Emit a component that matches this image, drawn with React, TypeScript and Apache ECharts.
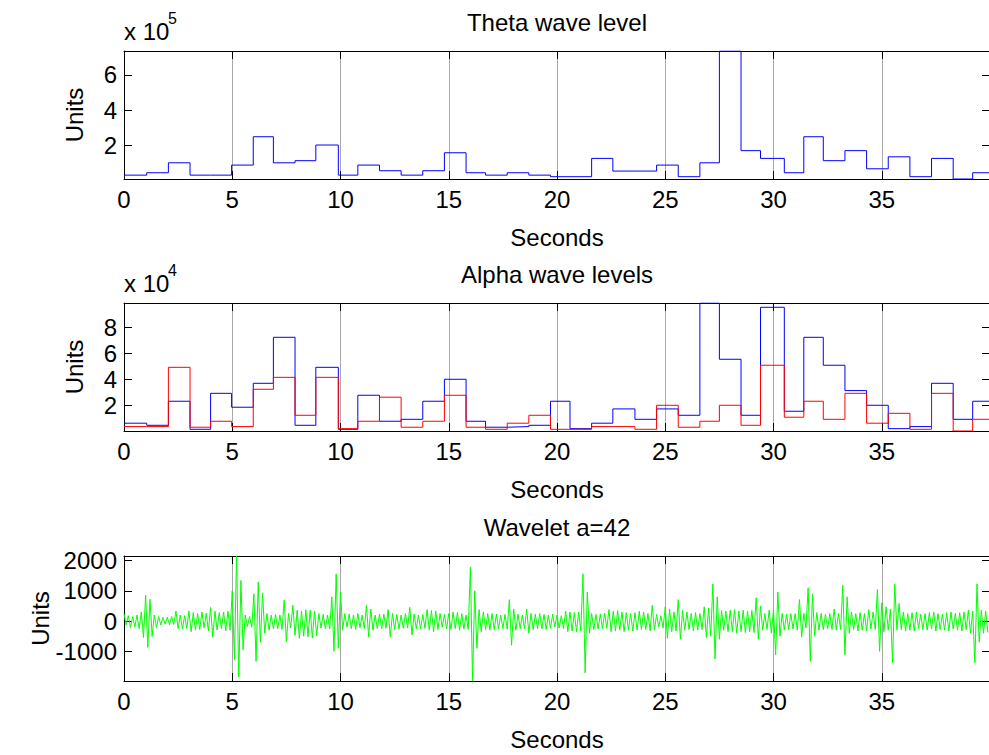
import React, { useEffect, useRef } from 'react';
import * as echarts from 'echarts';

// ---- data ----
const binEdges = [0, 1.05, 2.05, 3.05, 4.0, 4.97, 5.97, 6.9, 7.9, 8.86, 9.9, 10.8, 11.8, 12.8, 13.8, 14.8, 15.8, 16.7, 17.7, 18.7, 19.7, 20.6, 21.6, 22.58, 23.6, 24.6, 25.6, 26.6, 27.5, 28.5, 29.4, 30.5, 31.4, 32.3, 33.3, 34.3, 35.3, 36.3, 37.3, 38.3, 39.2];
const endTime = 40;

const thetaLevel = [31000, 44500, 101000, 31000, 31000, 88000, 249000, 101000, 113000, 202000, 31000, 88000, 56000, 31000, 56000, 158000, 44500, 31000, 44500, 31000, 22000, 22000, 126000, 54000, 54000, 88000, 22000, 101000, 736000, 170000, 126000, 44500, 249000, 113000, 170000, 67000, 135000, 22000, 126000, 9000, 44500];

const alphaBlue = [6200, 4600, 23100, 1500, 29200, 18500, 36900, 72300, 4600, 49200, 1500, 27700, 7700, 9200, 23100, 40000, 7700, 3100, 3600, 4600, 23100, 2000, 6200, 17200, 9200, 17200, 12300, 98700, 55400, 12300, 95400, 15400, 72300, 50800, 31300, 20000, 2000, 3600, 36900, 9200, 23100];

const alphaRed = [3600, 3600, 49200, 3100, 7700, 3600, 32300, 41500, 12300, 41500, 2000, 7700, 26200, 3100, 7700, 27700, 3100, 1500, 6200, 12300, 1500, 1500, 3600, 3600, 1500, 20000, 3100, 7700, 20000, 4600, 50800, 10800, 23100, 9200, 29200, 6200, 13800, 1500, 29200, 200, 9200];

const waveletStep = 0.1; // seconds between samples
const wavelet = [
  250, -130, 180, -220, 150, -200, 200, -250, 300, -540,
  850, -870, 720, -510, 200, -220, 150, -130, 120, -100,
  130, -120, 150, -110, 330, -250, 200, -260, 180, -240,
  330, -350, 280, -300, 250, -280, 300, -220, 260, -330,
  450, -530, 330, -300, 280, -250, 300, -320, 330, -300,
  1000, -1270, 2150, -1850, 1340, -950, 200, -180, 150, -200,
  900, -1330, 1290, -700, 930, -400, 250, -300, 200, -250,
  220, -250, 200, -280, 690, -680, 250, -230, 520, -470,
  360, -570, 330, -500, 380, -520, 360, -560, 330, -480,
  250, -230, 220, -250, 200, -260, 800, -1000, 1560, -900,
  960, -300, 250, -200, 230, -250, 200, -280, 250, -220,
  200, -250, 520, -530, 400, -300, 200, -250, 230, -260,
  230, -240, 380, -530, 250, -280, 220, -260, 200, -240,
  250, -230, 450, -460, 230, -250, 200, -260, 220, -240,
  380, -300, 350, -350, 330, -280, 250, -200, 220, -250,
  250, -280, 300, -250, 280, -300, 250, -260, 200, -280,
  1780, -1980, 1000, -900, 380, -350, 300, -280, 250, -300,
  250, -280, 230, -260, 200, -250, 220, -270, 710, -800,
  400, -300, 230, -250, 200, -260, 400, -400, 250, -280,
  230, -250, 250, -260, 220, -280, 200, -240, 230, -200,
  200, -230, 180, -250, 330, -350, 300, -330, 280, -350,
  300, -330, 1560, -1710, 960, -400, 250, -280, 220, -260,
  230, -250, 260, -240, 380, -350, 330, -330, 350, -300,
  300, -350, 280, -300, 250, -330, 280, -300, 330, -280,
  300, -280, 250, -320, 520, -300, 220, -200, 180, -230,
  470, -570, 400, -350, 300, -330, 710, -600, 350, -300,
  300, -280, 250, -330, 280, -300, 250, -280, 470, -540,
  430, -500, 1230, -1250, 800, -600, 350, -300, 330, -350,
  360, -350, 380, -400, 330, -350, 360, -380, 330, -350,
  350, -380, 770, -600, 500, -300, 250, -280, 360, -400,
  380, -1110, 960, -500, 250, -300, 230, -280, 250, -260,
  250, -300, 710, -530, 250, -230, 1100, -1330, 900, -500,
  280, -300, 250, -280, 230, -260, 250, -280, 400, -300,
  250, -280, 1180, -1110, 800, -400, 300, -280, 250, -330,
  280, -300, 250, -330, 380, -260, 300, -280, 1040, -1000,
  600, -350, 470, -300, 400, -1380, 1230, -300, 580, -280,
  300, -330, 250, -300, 280, -330, 300, -250, 230, -280,
  250, -300, 280, -260, 300, -330, 250, -280, 230, -300,
  280, -330, 300, -260, 250, -300, 280, -330, 300, -280,
  360, -400, 330, -1380, 1230, -700, 360, -400, 330, -380,
];

const titles = ['Theta wave level', 'Alpha wave levels', 'Wavelet a=42'];
const xTicks = [0, 5, 10, 15, 20, 25, 30, 35];

const FONT = '"Liberation Sans", Arial, Helvetica, sans-serif';

function stairs(values: number[]) {
  const pts: number[][] = values.map((v, i) => [binEdges[i], v]);
  pts.push([endTime, values[values.length - 1]]);
  return pts;
}

const panels = [
  { top: 51, height: 128, scale: 1e5, splitNumber: 3, step: 200000, nameGap: 38 },
  { top: 303, height: 128, scale: 1e4, splitNumber: 4, step: 20000, nameGap: 38 },
  { top: 556, height: 125, scale: 1, splitNumber: 4, step: 1000, nameGap: 72 },
];

export default function App() {
  const ref = useRef<HTMLDivElement>(null);
  useEffect(() => {
    if (!ref.current) return;
    const chart = echarts.init(ref.current, undefined, { renderer: 'svg' });

    const ranges = [
      [Math.min(...thetaLevel), Math.max(...thetaLevel)],
      [Math.min(...alphaBlue, ...alphaRed), Math.max(...alphaBlue, ...alphaRed)],
      [Math.min(...wavelet), Math.max(...wavelet)],
    ];

    const grid: any[] = [];
    const xAxis: any[] = [];
    const yAxis: any[] = [];
    const graphic: any[] = [];
    const black = '#000';

    panels.forEach((p, i) => {
      grid.push({ left: 124, width: 866, top: p.top, height: p.height, outerBoundsMode: 'none', containLabel: false });
      xAxis.push({
        type: 'value', gridIndex: i, min: 0, max: endTime, interval: 5, position: 'bottom',
        axisLine: { show: true, onZero: false, lineStyle: { color: black, width: 1 } },
        axisTick: { show: true, inside: true, length: 8, lineStyle: { color: black, width: 1 } },
        axisLabel: {
          color: black, fontSize: 24, fontFamily: FONT, margin: 8, showMaxLabel: false,
          formatter: (v: number) => (xTicks.includes(v) ? String(v) : ''),
        },
        splitLine: { show: true, lineStyle: { color: '#a8a8a8', width: 1 } },
        name: 'Seconds', nameLocation: 'middle', nameGap: 46, nameMoveOverlap: false,
        nameTextStyle: { color: black, fontSize: 24, fontFamily: FONT },
      });
      xAxis.push({
        type: 'value', gridIndex: i, min: 0, max: endTime, interval: 5, position: 'top',
        axisLine: { show: true, onZero: false, lineStyle: { color: black, width: 1 } },
        axisTick: { show: true, inside: true, length: 8, lineStyle: { color: black, width: 1 } },
        axisLabel: { show: false }, splitLine: { show: false },
      });
      const [mn, mx] = ranges[i];
      const fmt = (v: number) => {
        const k = Math.round(v / p.step);
        return Math.abs(v - k * p.step) < 1e-6 ? String((k * p.step) / p.scale) : '';
      };
      yAxis.push({
        type: 'value', gridIndex: i, min: mn, max: mx, splitNumber: p.splitNumber, position: 'left',
        axisLine: { show: true, onZero: false, lineStyle: { color: black, width: 1 } },
        axisTick: { show: true, inside: true, length: 8, lineStyle: { color: black, width: 1 } },
        axisLabel: { color: black, fontSize: 24, fontFamily: FONT, margin: 7, showMinLabel: false, showMaxLabel: false, formatter: fmt },
        splitLine: { show: false },
        name: 'Units', nameLocation: 'middle', nameGap: p.nameGap, nameRotate: 90, nameMoveOverlap: false,
        nameTextStyle: { color: black, fontSize: 24, fontFamily: FONT },
      });
      yAxis.push({
        type: 'value', gridIndex: i, min: mn, max: mx, splitNumber: p.splitNumber, position: 'right',
        axisLine: { show: true, onZero: false, lineStyle: { color: black, width: 1 } },
        axisTick: { show: true, inside: true, length: 8, lineStyle: { color: black, width: 1 } },
        axisLabel: { show: false }, splitLine: { show: false },
      });
      graphic.push({
        type: 'text', x: 557, y: p.top - 29,
        style: { text: titles[i], fill: black, fontSize: 24, fontFamily: FONT, align: 'center', verticalAlign: 'middle', textAlign: 'center', textVerticalAlign: 'middle' },
      });
      if (p.scale !== 1) {
        graphic.push({
          type: 'text', x: 124, y: p.top - 20,
          style: { text: 'x 10', fill: black, fontSize: 24, fontFamily: FONT, align: 'left', verticalAlign: 'middle', textAlign: 'left', textVerticalAlign: 'middle' },
        });
        graphic.push({
          type: 'text', x: 168, y: p.top - 33,
          style: { text: String(Math.round(Math.log10(p.scale))), fill: black, fontSize: 16, fontFamily: FONT, align: 'left', verticalAlign: 'middle', textAlign: 'left', textVerticalAlign: 'middle' },
        });
      }
    });

    const lineBase = { type: 'line', showSymbol: false, symbol: 'none', silent: true, clip: true };
    const series: any[] = [
      { ...lineBase, name: 'Theta', xAxisIndex: 0, yAxisIndex: 0, step: 'end', data: stairs(thetaLevel), lineStyle: { color: '#0000ff', width: 1 }, itemStyle: { color: '#0000ff' } },
      { ...lineBase, name: 'Alpha 1', xAxisIndex: 2, yAxisIndex: 2, step: 'end', data: stairs(alphaBlue), lineStyle: { color: '#0000ff', width: 1 }, itemStyle: { color: '#0000ff' } },
      { ...lineBase, name: 'Alpha 2', xAxisIndex: 2, yAxisIndex: 2, step: 'end', data: stairs(alphaRed), lineStyle: { color: '#ff0000', width: 1 }, itemStyle: { color: '#ff0000' } },
      { ...lineBase, name: 'Wavelet', xAxisIndex: 4, yAxisIndex: 4, data: wavelet.map((v, i) => [i * waveletStep, v]), lineStyle: { color: '#00ff00', width: 1 }, itemStyle: { color: '#00ff00' } },
    ];

    chart.setOption({
      animation: false,
      backgroundColor: '#ffffff',
      textStyle: { fontFamily: FONT },
      grid, xAxis, yAxis, series, graphic,
    });
    return () => chart.dispose();
  }, []);

  return <div ref={ref} style={{ position: 'absolute', left: 0, top: 0, width: 989, height: 755, background: '#fff' }} />;
}
